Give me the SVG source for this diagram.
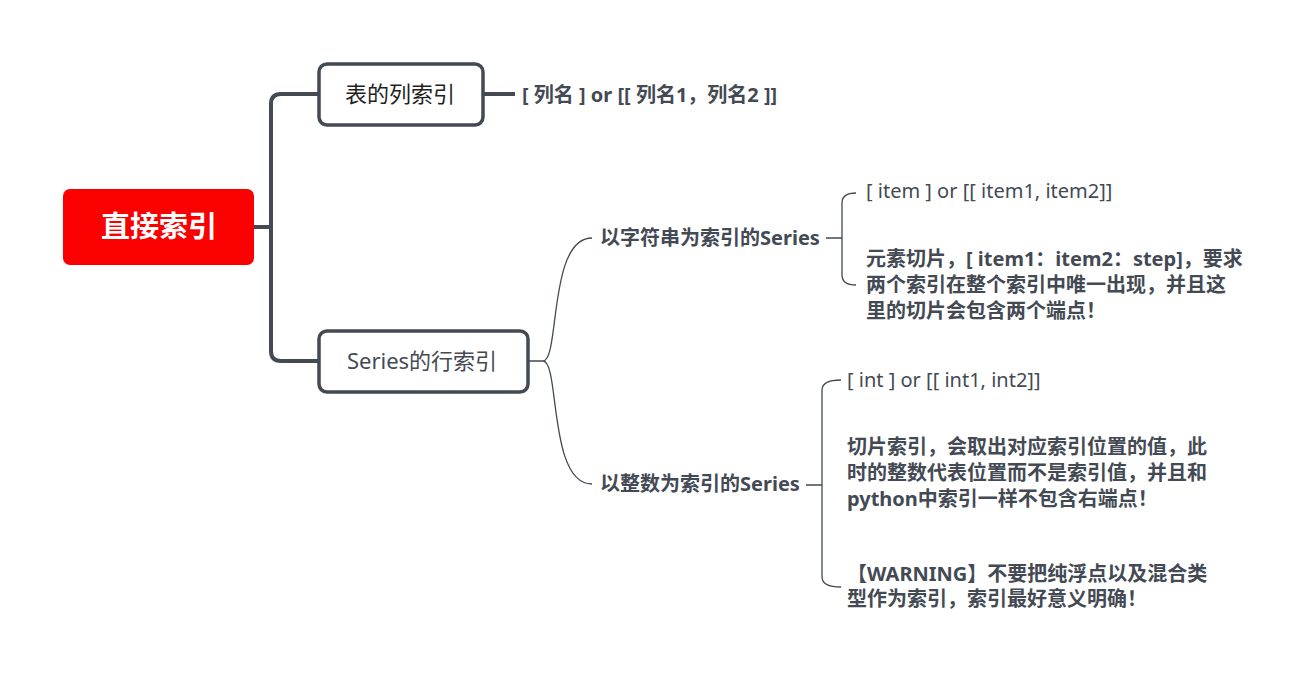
<svg xmlns="http://www.w3.org/2000/svg" width="1306" height="692" viewBox="0 0 1306 692">
<style>
text{font-family:"Noto Sans","Noto Sans CJK SC",sans-serif;fill:#434a54}
.b{font-weight:bold}
.s{font-size:20px}
.thick{fill:none;stroke:#434a54;stroke-width:4}
.thin{fill:none;stroke:#434a54;stroke-width:1.3}
.box{fill:#fff;stroke:#434a54;stroke-width:3.5}
</style>
<rect width="1306" height="692" fill="#fff"/>
<g id="connectors">
<path class="thick" d="M254,227 H271 M319,94 H281 Q271,94 271,104 V351 Q271,361 281,361 H319"/>
<path class="thick" d="M483,94 H515"/>
<path class="thin" d="M528,361 H543 C560,361 548,238 592,238 M543,361 C560,361 548,484 592,484"/>
<path class="thin" d="M826,238 H842 M856,193 Q842,193 842,203 V275 Q842,285 856,285"/>
<path class="thin" d="M806,485 H822 M841,380 Q822,380 822,390 V577 Q822,587 841,587"/>
</g>
<g id="root">
<rect x="63" y="189" width="191" height="76" rx="7" fill="#fa0000"/>
<text x="159" y="237" text-anchor="middle" class="b" style="font-size:29px;fill:#fff">直接索引</text>
</g>
<g id="n1">
<rect class="box" x="319" y="64" width="164" height="61" rx="8"/>
<text x="400" y="102" text-anchor="middle" style="font-size:22px;fill:#1f1f1f">表的列索引</text>
</g>
<g id="n2">
<rect class="box" x="319" y="331" width="209" height="61" rx="8"/>
<text x="422" y="369" text-anchor="middle" style="font-size:22px">Series的行索引</text>
</g>
<g id="n1a"><text x="522" y="102" class="b s">[ 列名 ] or [[ 列名1，列名2 ]]</text></g>
<g id="s1"><text x="600" y="245" class="b s">以字符串为索引的Series</text></g>
<g id="s2"><text x="600" y="491" class="b s">以整数为索引的Series</text></g>
<g id="s1a"><text x="866" y="198" class="s">[ item ] or [[ item1, item2]]</text></g>
<g id="s1b"><text class="b s">
<tspan x="866" y="266">元素切片，[ item1：item2：step]，要求</tspan>
<tspan x="866" y="292">两个索引在整个索引中唯一出现，并且这</tspan>
<tspan x="866" y="318">里的切片会包含两个端点！</tspan></text></g>
<g id="s2a"><text x="847" y="387" class="s">[ int ] or [[ int1, int2]]</text></g>
<g id="s2b"><text class="b s">
<tspan x="847" y="454">切片索引，会取出对应索引位置的值，此</tspan>
<tspan x="847" y="480">时的整数代表位置而不是索引值，并且和</tspan>
<tspan x="847" y="506">python中索引一样不包含右端点！</tspan></text></g>
<g id="s2c"><text class="b s">
<tspan x="847" y="581">【WARNING】不要把纯浮点以及混合类</tspan>
<tspan x="847" y="606">型作为索引，索引最好意义明确！</tspan></text></g>
</svg>
